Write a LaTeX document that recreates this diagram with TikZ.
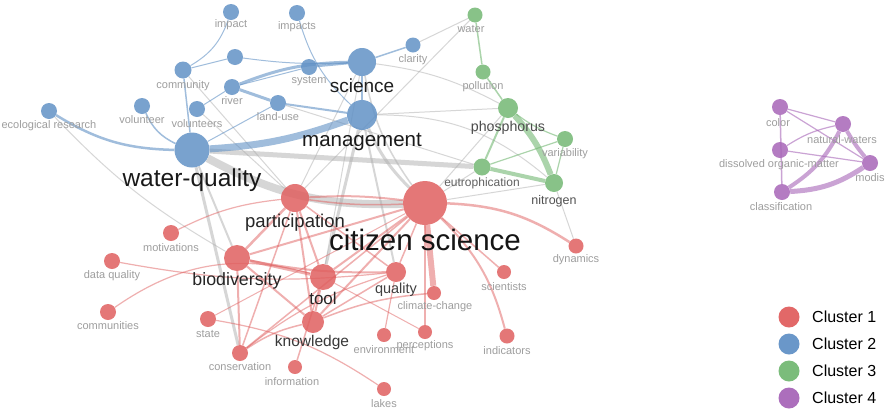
\documentclass[tikz,border=0pt]{standalone}
\usepackage{fontspec}
\setmainfont{Liberation Sans}
\definecolor{cR}{RGB}{224,96,96}
\definecolor{cB}{RGB}{98,146,198}
\definecolor{cG}{RGB}{116,184,116}
\definecolor{cP}{RGB}{168,102,184}
\definecolor{cX}{RGB}{175,175,175}
\definecolor{lab}{RGB}{158,158,158}
\pgfdeclarelayer{bg}
\pgfsetlayers{bg,main}
\begin{document}
\begin{tikzpicture}[x=1pt,y=-1pt,
  kw/.style={circle,inner sep=0pt,draw=none,fill opacity=.85,minimum size=#1pt},
  nr/.style={kw=#1,fill=cR}, nb/.style={kw=#1,fill=cB},
  ng/.style={kw=#1,fill=cG}, np/.style={kw=#1,fill=cP},
  eR/.style={draw=cR,draw opacity=.5,line width=#1pt},
  eB/.style={draw=cB,draw opacity=.6,line width=#1pt},
  eG/.style={draw=cG,draw opacity=.6,line width=#1pt},
  eP/.style={draw=cP,draw opacity=.6,line width=#1pt},
  eX/.style={draw=cX,draw opacity=.5,line width=#1pt},
  sl/.style={inner sep=0pt,text=lab,font=\fontsize{11}{11}\selectfont},
  bl/.style={inner sep=0pt,text=#1},
  lg/.style={circle,inner sep=0pt,minimum size=21pt,draw=none},
  lt/.style={inner sep=0pt,anchor=west,font=\fontsize{16}{16}\selectfont}]
\useasboundingbox (0,0) rectangle (886,413);
% ---- blue nodes
\node[nb=16] (impact) at (231,12) {};
\node[nb=16] (impacts) at (297,13) {};
\node[nb=16] (nx) at (235,57) {};
\node[nb=17] (community) at (183,70) {};
\node[nb=16] (river) at (232,87) {};
\node[nb=16] (volunteer) at (142,106) {};
\node[nb=16] (volunteers) at (197,109) {};
\node[nb=16] (eco) at (49,111) {};
\node[nb=16] (landuse) at (278,103) {};
\node[nb=16] (system) at (309,67) {};
\node[nb=15] (clarity) at (413,45) {};
\node[nb=28] (science) at (362,62) {};
\node[nb=30] (management) at (362,115) {};
\node[nb=35] (wq) at (192,150) {};
% ---- green nodes
\node[ng=15] (water) at (475,15) {};
\node[ng=15] (pollution) at (483,72) {};
\node[ng=20] (phos) at (508,108) {};
\node[ng=16] (var) at (565,139) {};
\node[ng=17] (eut) at (482,167) {};
\node[ng=18] (nitro) at (554,183) {};
% ---- red nodes
\node[nr=44] (cs) at (425,203) {};
\node[nr=28] (part) at (295,198) {};
\node[nr=16] (motiv) at (171,233) {};
\node[nr=16] (dq) at (112,261) {};
\node[nr=26] (bio) at (237,258) {};
\node[nr=16] (comms) at (108,312) {};
\node[nr=26] (tool) at (323,277) {};
\node[nr=20] (quality) at (396,272) {};
\node[nr=14] (cc) at (434,293) {};
\node[nr=16] (state) at (208,319) {};
\node[nr=22] (know) at (313,322) {};
\node[nr=14] (env) at (384,335) {};
\node[nr=14] (perc) at (425,332) {};
\node[nr=14] (sci) at (504,272) {};
\node[nr=15] (ind) at (507,336) {};
\node[nr=15] (dyn) at (576,246) {};
\node[nr=16] (cons) at (240,353) {};
\node[nr=14] (info) at (295,367) {};
\node[nr=14] (lakes) at (384,389) {};
% ---- purple nodes
\node[np=16] (color) at (780,107) {};
\node[np=16] (nw) at (843,124) {};
\node[np=16] (dom) at (780,150) {};
\node[np=16] (modis) at (870,163) {};
\node[np=16] (class) at (782,192) {};
% ---- edges
\begin{pgfonlayer}{bg}
\fill[white] (0,0) rectangle (886,413);
% gray
\draw[eX=8] (wq) to[bend right=15] (cs);
\draw[eX=5] (wq) -- (eut);
\draw[eX=3] (wq) -- (cons);
\draw[eX=2] (wq) -- (bio);
\draw[eX=1] (eco) to[bend right=8] (bio);
\draw[eX=3] (management) to[bend right=10] (cs);
\draw[eX=1.5] (science) to[bend right=12] (cs);
\draw[eX=3] (management) -- (tool);
\draw[eX=2] (management) -- (quality);
\draw[eX=1] (science) -- (part);
\draw[eX=1] (science) -- (tool);
\draw[eX=1] (water) -- (part);
\draw[eX=1] (clarity) -- (water);
\draw[eX=1] (science) to[bend left=10] (phos);
\draw[eX=1] (management) to[bend left=20] (nitro);
\draw[eX=1] (management) -- (phos);
\draw[eX=1] (landuse) -- (eut);
\draw[eX=1] (cs) -- (eut);
\draw[eX=1] (cs) -- (phos);
\draw[eX=1] (cs) -- (nitro);
\draw[eX=1] (nitro) -- (dyn);
\draw[eX=1] (volunteers) -- (part);
\draw[eX=1] (community) -- (part);
% blue
\draw[eB=1] (community) to[bend right=20] (impact);
\draw[eB=1] (community) -- (nx);
\draw[eB=1] (nx) to[bend right=5] (science);
\draw[eB=1.5] (wq) -- (community);
\draw[eB=2.5] (eco) to[bend right=15] (wq);
\draw[eB=1.5] (volunteer) to[bend right=20] (wq);
\draw[eB=1] (wq) -- (landuse);
\draw[eB=1] (volunteers) -- (river);
\draw[eB=7] (wq) to[bend right=8] (management);
\draw[eB=3] (river) to[bend left=10] (science);
\draw[eB=3] (river) -- (landuse);
\draw[eB=2] (landuse) -- (management);
\draw[eB=1] (river) -- (system);
\draw[eB=2] (system) -- (science);
\draw[eB=1] (impacts) to[bend right=15] (management);
\draw[eB=1.5] (science) -- (clarity);
\draw[eB=2] (science) -- (management);
% green
\draw[eG=1.5] (water) -- (pollution);
\draw[eG=1.5] (pollution) -- (phos);
\draw[eG=6] (phos) to[bend left=10] (nitro);
\draw[eG=2] (phos) -- (eut);
\draw[eG=1.2] (phos) to[bend right=8] (var);
\draw[eG=4] (eut) -- (nitro);
\draw[eG=1.2] (eut) -- (var);
\draw[eG=1.2] (var) -- (nitro);
% red
\draw[eR=2] (cs) to[bend right=5] (part);
\draw[eR=1.5] (cs) to[bend left=5] (part);
\draw[eR=6] (cs) -- (cc);
\draw[eR=2] (cs) -- (perc);
\draw[eR=1.5] (cs) -- (sci);
\draw[eR=2] (cs) to[bend left=15] (ind);
\draw[eR=2.5] (cs) to[bend left=15] (dyn);
\draw[eR=1.5] (cs) -- (quality);
\draw[eR=2] (cs) -- (tool);
\draw[eR=2] (cs) -- (know);
\draw[eR=2] (cs) -- (bio);
\draw[eR=1.5] (cs) -- (cons);
\draw[eR=1] (cs) -- (state);
\draw[eR=1.2] (motiv) to[bend left=10] (part);
\draw[eR=1.2] (dq) to[bend right=8] (quality);
\draw[eR=1.2] (comms) to[bend left=25] (tool);
\draw[eR=2.5] (bio) -- (part);
\draw[eR=3] (bio) -- (tool);
\draw[eR=2] (bio) to[bend right=6] (quality);
\draw[eR=2] (bio) -- (know);
\draw[eR=2] (bio) -- (cons);
\draw[eR=2] (part) -- (tool);
\draw[eR=2] (part) -- (know);
\draw[eR=1.5] (part) -- (cons);
\draw[eR=1.5] (part) -- (quality);
\draw[eR=1.2] (state) to[bend left=12] (lakes);
\draw[eR=1.5] (know) to[bend left=8] (cc);
\draw[eR=2] (know) -- (tool);
\draw[eR=1.5] (know) -- (quality);
\draw[eR=1.5] (cons) to[bend left=10] (know);
\draw[eR=1.2] (cons) to[bend left=10] (quality);
\draw[eR=1.5] (info) -- (tool);
\draw[eR=1.2] (env) -- (quality);
\draw[eR=1] (perc) -- (tool);
% purple
\draw[eP=1.2] (color) -- (nw);
\draw[eP=1.2] (color) -- (modis);
\draw[eP=1.5] (color) -- (class);
\draw[eP=1.2] (dom) to[bend left=10] (nw);
\draw[eP=1.2] (dom) -- (modis);
\draw[eP=4] (class) to[bend right=15] (nw);
\draw[eP=5] (class) to[bend right=15] (modis);
\draw[eP=4] (nw) to[bend right=5] (modis);
\end{pgfonlayer}
% ---- labels
\node[sl] (l-impact) at (231,25) {impact};
\node[sl] (l-impacts) at (297,27) {impacts};
\node[sl] (l-community) at (183,86) {community};
\node[sl] (l-river) at (232,101) {river};
\node[sl] (l-volunteer) at (142,120) {volunteer};
\node[sl] (l-volunteers) at (197,124) {volunteers};
\node[sl] (l-eco) at (49,126) {ecological research};
\node[sl] (l-landuse) at (278,117) {land-use};
\node[sl] (l-system) at (309,81) {system};
\node[sl] (l-clarity) at (413,60) {clarity};
\node[bl={black!88},font=\fontsize{19}{19}\selectfont] (l-science) at (362,86) {science};
\node[bl={black!90},font=\fontsize{20.5}{20.5}\selectfont] (l-management) at (362,142) {management};
\node[bl={black!90},font=\fontsize{24.5}{24.5}\selectfont] (l-wq) at (192,180) {water-quality};
\node[sl] (l-water) at (471,29) {water};
\node[sl] (l-pollution) at (483,87) {pollution};
\node[bl={black!70},font=\fontsize{14.2}{14.2}\selectfont] (l-phos) at (508,128) {phosphorus};
\node[sl] (l-var) at (565,154) {variability};
\node[bl={black!62},font=\fontsize{12}{12}\selectfont] (l-eut) at (482,183) {eutrophication};
\node[bl={black!68},font=\fontsize{12.5}{12.5}\selectfont] (l-nitro) at (554,201) {nitrogen};
\node[bl={black!92},font=\fontsize{29.5}{29.5}\selectfont] (l-cs) at (425,240) {citizen science};
\node[bl={black!85},font=\fontsize{18.5}{18.5}\selectfont] (l-part) at (295,223) {participation};
\node[sl] (l-motiv) at (171,248) {motivations};
\node[sl] (l-dq) at (112,276) {data quality};
\node[bl={black!85},font=\fontsize{17.8}{17.8}\selectfont] (l-bio) at (237,281) {biodiversity};
\node[sl] (l-comms) at (108,326) {communities};
\node[bl={black!85},font=\fontsize{17}{17}\selectfont] (l-tool) at (323,298) {tool};
\node[bl={black!75},font=\fontsize{14.5}{14.5}\selectfont] (l-quality) at (396,290) {quality};
\node[sl] (l-cc) at (435,307) {climate-change};
\node[sl] (l-state) at (208,334) {state};
\node[bl={black!78},font=\fontsize{15.5}{15.5}\selectfont] (l-know) at (312,342) {knowledge};
\node[sl] (l-env) at (384,350) {environment};
\node[sl] (l-perc) at (425,346) {perceptions};
\node[sl] (l-sci) at (504,287) {scientists};
\node[sl] (l-ind) at (507,351) {indicators};
\node[sl] (l-dyn) at (576,260) {dynamics};
\node[sl] (l-cons) at (240,367) {conservation};
\node[sl] (l-info) at (292,382) {information};
\node[sl] (l-lakes) at (384,404) {lakes};
\node[sl] (l-color) at (778,123) {color};
\node[sl] (l-nw) at (842,140) {natural-waters};
\node[sl] (l-dom) at (779,165) {dissolved organic-matter};
\node[sl] (l-modis) at (870,178) {modis};
\node[sl] (l-class) at (781,207) {classification};
% ---- legend
\node[lg,fill=cR!95!white] (k1) at (789,317) {};
\node[lg,fill=cB!95!white] (k2) at (789,344) {};
\node[lg,fill=cG!95!white] (k3) at (789,371) {};
\node[lg,fill=cP!95!white] (k4) at (789,398) {};
\node[lt] (t1) at (812,317) {Cluster 1};
\node[lt] (t2) at (812,344) {Cluster 2};
\node[lt] (t3) at (812,371) {Cluster 3};
\node[lt] (t4) at (812,398) {Cluster 4};
\end{tikzpicture}
\end{document}
